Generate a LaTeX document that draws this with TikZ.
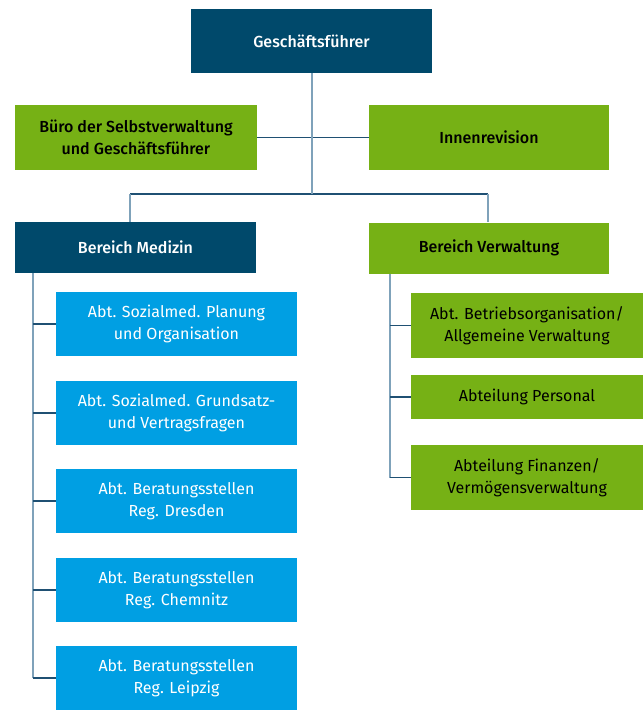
\documentclass[tikz,border=0pt]{standalone}
\usepackage{fontspec}
\setmainfont{Fira Sans}[BoldFont={Fira Sans Medium}]
\usetikzlibrary{positioning}

\definecolor{darkblue}{HTML}{00496B}
\definecolor{lightblue}{HTML}{009FE3}
\definecolor{green}{HTML}{76B115}
\definecolor{lineV}{HTML}{7FA2BA}
\definecolor{lineH}{HTML}{1F5073}

\begin{document}
\begin{tikzpicture}[x=1pt, y=-1pt,
    box/.style={inner sep=0pt, align=center, font=\fontsize{16}{22}\selectfont},
    head/.style={box, fill=darkblue, text=white, font=\fontsize{16}{22}\selectfont\bfseries},
    greenhead/.style={box, fill=green, text=black, font=\fontsize{16}{22}\selectfont\bfseries},
    greensub/.style={box, fill=green, text=black},
    bluesub/.style={box, fill=lightblue, text=white},
    vline/.style={draw=lineV, line width=1.8pt},
    hline/.style={draw=lineH, line width=1.3pt}]
    \useasboundingbox (0,0) rectangle (643,710);

    \node[head, minimum width=241pt, minimum height=64pt]      (gf)    at (311.5,41)   {Geschäftsführer};
    \node[greenhead, minimum width=242pt, minimum height=65pt] (buero) at (136,137.5)  {Büro der Selbstverwaltung\\und Geschäftsführer};
    \node[greenhead, minimum width=240pt, minimum height=65pt] (innen) at (489,137.5)  {Innenrevision};
    \node[head, minimum width=241pt, minimum height=51pt]      (med)   at (135.5,247.5) {Bereich Medizin};
    \node[greenhead, minimum width=240pt, minimum height=51pt] (verw)  at (489,248)    {Bereich Verwaltung};

    % Bereich Medizin
    \node[bluesub, minimum width=241pt, minimum height=64pt] (m1) at (176.5,324) {Abt. Sozialmed. Planung\\und Organisation};
    \node[bluesub, minimum width=241pt, minimum height=64pt] (m2) at (176.5,413) {Abt. Sozialmed. Grundsatz-\\und Vertragsfragen};
    \node[bluesub, minimum width=241pt, minimum height=64pt] (m3) at (176.5,501) {Abt. Beratungsstellen\\Reg. Dresden};
    \node[bluesub, minimum width=241pt, minimum height=64pt] (m4) at (176.5,590) {Abt. Beratungsstellen\\Reg. Chemnitz};
    \node[bluesub, minimum width=241pt, minimum height=64pt] (m5) at (176.5,678) {Abt. Beratungsstellen\\Reg. Leipzig};

    % Bereich Verwaltung
    \node[greensub, minimum width=232pt, minimum height=65pt] (v1) at (527,325.5) {Abt. Betriebsorganisation/\\Allgemeine Verwaltung};
    \node[greensub, minimum width=232pt, minimum height=44pt] (v2) at (527,397)   {Abteilung Personal};
    \node[greensub, minimum width=232pt, minimum height=65pt] (v3) at (527,477.5) {Abteilung Finanzen/\\Vermögensverwaltung};

    \coordinate (top) at (312,194);
    \coordinate (bm)  at (130,194);
    \coordinate (bv)  at (488,194);
    \coordinate (tm)  at (33,273);
    \coordinate (tv)  at (390,273.5);

    \draw[hline] (buero.east) -- (innen.west);
    \draw[hline] (bm) -- (bv);
    \draw[vline] (gf.south -| top) -- (top);
    \draw[vline] (bm) -- (bm |- med.north);
    \draw[vline] (bv) -- (bv |- verw.north);

    \draw[vline] (tm) -- (tm |- m5.west);
    \foreach \n in {m1,m2,m3,m4,m5}
        \draw[hline] (tm |- \n.west) -- (\n.west);

    \draw[vline] (tv) -- (tv |- v3.west);
    \foreach \n in {v1,v2,v3}
        \draw[hline] (tv |- \n.west) -- (\n.west);
\end{tikzpicture}
\end{document}
